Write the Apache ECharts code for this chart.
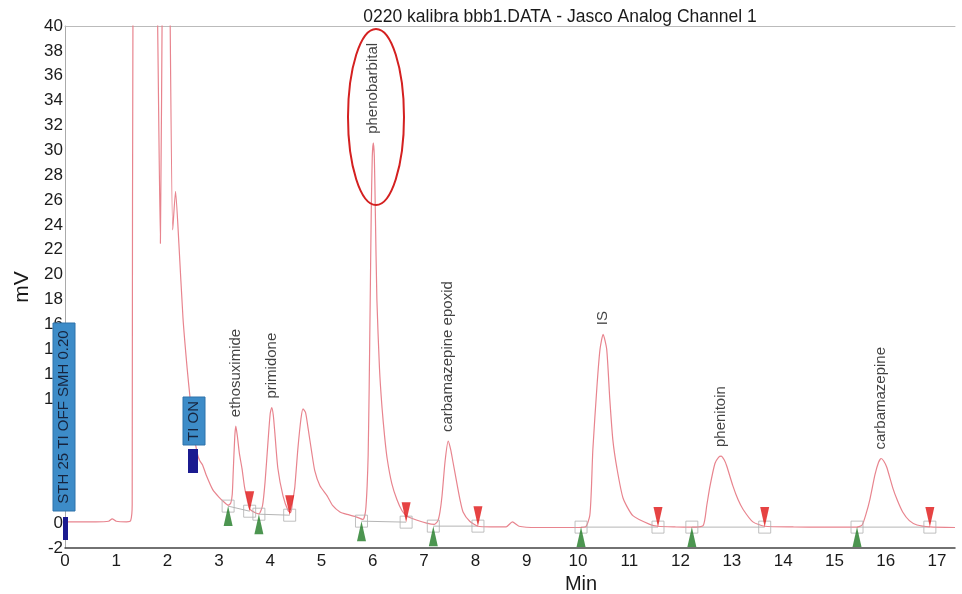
<!DOCTYPE html>
<html><head><meta charset="utf-8">
<script src="https://cdn.jsdelivr.net/npm/echarts@6/dist/echarts.min.js"></script>
<style>html,body{margin:0;padding:0;background:#fff}#c{width:962px;height:594px}</style>
</head><body><div id="c"></div>
<script>
// ---- data ----
const timeMin = [0,0.3,0.6,0.85,0.92,1.0,1.2,1.28,1.31,1.33,1.6,1.79,1.86,1.90,1.98,2.04,2.10,2.155,2.22,2.30,2.38,2.44,2.52,2.58,2.63,2.68,2.75,2.88,3.0,3.10,3.18,3.23,3.26,3.28,3.31,3.33,3.36,3.40,3.45,3.50,3.55,3.60,3.70,3.78,3.85,3.90,3.96,4.00,4.03,4.06,4.09,4.15,4.25,4.35,4.40,4.44,4.48,4.54,4.60,4.64,4.69,4.74,4.81,4.87,4.97,5.11,5.22,5.36,5.50,5.65,5.81,5.86,5.89,5.91,5.93,5.95,5.97,5.99,6.01,6.03,6.05,6.08,6.13,6.18,6.23,6.28,6.37,6.47,6.57,6.67,6.85,7.05,7.20,7.27,7.31,7.35,7.41,7.47,7.52,7.56,7.64,7.70,7.76,7.89,8.05,8.30,8.60,8.72,8.85,9.2,9.6,10.0,10.15,10.23,10.26,10.29,10.37,10.43,10.49,10.56,10.62,10.68,10.76,10.88,11.07,11.40,11.56,11.9,12.22,12.44,12.51,12.57,12.67,12.74,12.79,12.85,12.9,13.02,13.12,13.22,13.41,13.64,14.2,14.8,15.2,15.44,15.54,15.62,15.69,15.79,15.86,15.91,15.96,16.02,16.14,16.23,16.33,16.46,16.61,16.86,17.35];
const signalMv = [0.1,0.1,0.1,0.15,0.35,0.15,0.1,0.2,1.5,50,80,45,22.5,45,70,45,23.6,26.7,22.5,16.5,12.5,10,7.0,5.6,5.0,4.7,3.9,2.7,2.1,1.7,1.45,1.6,2.3,4.2,7.0,7.8,7.0,5.6,4.4,2.9,1.9,1.15,0.85,0.75,1.4,3.3,6.7,8.8,9.3,8.7,7.3,4.4,2.2,1.0,0.85,1.8,2.9,6.0,8.4,9.2,8.9,7.6,5.7,4.2,3.0,2.2,1.4,0.9,0.7,0.55,0.3,1.0,3.0,5.5,11,18,25,29.5,30.6,29.5,25,18,12.5,9.3,7.0,5.2,3.2,1.9,1.0,0.55,0.25,0.0,-0.1,0.2,0.9,2.2,5.0,6.6,5.9,5.0,3.2,1.9,0.9,0.15,-0.25,-0.3,-0.3,0.1,-0.25,-0.35,-0.35,-0.35,-0.3,0.6,2.6,5.9,11,14,15.2,14,10,6.7,4.4,2.0,0.6,-0.1,-0.25,-0.3,-0.32,-0.2,1.4,2.9,4.8,5.3,5.4,5.1,4.6,3.0,1.9,1.1,0.1,-0.25,-0.3,-0.32,-0.32,-0.32,-0.15,0.8,1.9,3.9,4.9,5.2,5.0,4.5,2.8,1.8,0.9,0.2,-0.15,-0.3,-0.35];

const peakNames   = ['ethosuximide','primidone','phenobarbital','carbamazepine epoxid','IS','phenitoin','carbamazepine'];
const peakTimes   = [3.33, 4.03, 6.01, 7.47, 10.49, 12.79, 15.91];
const peakHeights = [7.8, 9.3, 30.6, 6.6, 15.2, 5.4, 5.2];

const startTimes  = [3.18, 3.78, 5.78, 7.18, 10.06, 12.22, 15.44];
const startValues = [1.37, 0.72, 0.16, -0.24, -0.32, -0.32, -0.32];
const endTimes    = [3.60, 4.38, 6.65, 8.05, 11.56, 13.64, 16.86];
const endValues   = [0.96, 0.64, 0.08, -0.24, -0.32, -0.32, -0.32];

const xMin = 0, xMax = 17.35, xStep = 1;
const yMin = -2, yMax = 40, yStep = 2;

const titleText = '0220 kalibra bbb1.DATA - Jasco Analog Channel 1';
const eventText1 = 'STH 25 TI OFF SMH 0.20';
const eventText2 = 'TI ON';

// ---- build ----
const trace = timeMin.map((t, i) => [t, signalMv[i]]);
const baseSeg = [];
startTimes.forEach((t, i) => { baseSeg.push([t, startValues[i]]); baseSeg.push([endTimes[i], endValues[i]]); baseSeg.push(['-', '-']); });
const starts = startTimes.map((t, i) => [t, startValues[i]]);
const ends = endTimes.map((t, i) => [t, endValues[i]]);
const peaks = peakTimes.map((t, i) => ({ name: peakNames[i], value: [t, peakHeights[i]] }));

const FONT = 'Liberation Sans, Arial, sans-serif';
const chart = echarts.init(document.getElementById('c'), null, { renderer: 'canvas' });
chart.setOption({
  animation: false,
  backgroundColor: '#fff',
  title: { text: titleText, left: 555, top: 3, textAlign: 'center',
    textStyle: { fontFamily: FONT, fontSize: 17.5, fontWeight: 'normal', color: '#1a1a1a' } },
  grid: { left: 65, right: 7, top: 26, bottom: 46, containLabel: false, outerBoundsMode: 'none' },
  xAxis: [{
    type: 'value', min: xMin, max: xMax, interval: xStep,
    name: 'Min', nameLocation: 'middle', nameGap: 12,
    nameTextStyle: { fontFamily: FONT, fontSize: 20, color: '#1a1a1a', padding: [0, 0, 0, 142] },
    axisLine: { onZero: false, lineStyle: { color: '#444', width: 1.5 } },
    axisTick: { show: false },
    axisLabel: { fontFamily: FONT, fontSize: 17, color: '#1a1a1a', margin: 5,
      formatter: v => Math.abs(v - Math.round(v)) < 1e-6 ? String(Math.round(v)) : '' },
    splitLine: { show: false }
  }, {
    type: 'value', position: 'top', min: xMin, max: xMax,
    axisLine: { onZero: false, lineStyle: { color: '#bbb' } }, axisTick: { show: false },
    axisLabel: { show: false }, splitLine: { show: false }
  }],
  yAxis: {
    type: 'value', min: yMin, max: yMax, interval: yStep,
    name: 'mV', nameLocation: 'middle', nameGap: 21, nameRotate: 90,
    nameTextStyle: { fontFamily: FONT, fontSize: 21, color: '#1a1a1a' },
    axisLine: { show: true, onZero: false, lineStyle: { color: '#aaa' } },
    axisTick: { show: false },
    axisLabel: { fontFamily: FONT, fontSize: 17, color: '#1a1a1a', margin: 2 },
    splitLine: { show: false }
  },
  series: [
    { type: 'line', data: baseSeg, showSymbol: false, connectNulls: false,
      lineStyle: { color: '#b5b5b5', width: 1 }, z: 1, silent: true },
    { type: 'line', data: trace, showSymbol: false, smooth: 0.2, clip: true,
      lineStyle: { color: '#e8848e', width: 1.2 }, z: 2 },
    { type: 'scatter', data: starts.concat(ends), symbol: 'rect', symbolSize: 12,
      itemStyle: { color: 'rgba(0,0,0,0)', borderColor: '#b0b0b0', borderWidth: 1 }, z: 3 },
    { type: 'scatter', data: starts, symbol: 'triangle', symbolSize: [9, 20], symbolOffset: [0, 10],
      itemStyle: { color: '#1f7a24' }, z: 4 },
    { type: 'scatter', data: ends, symbol: 'triangle', symbolSize: [9, 20], symbolRotate: 180, symbolOffset: [0, -10],
      itemStyle: { color: '#e01414' }, z: 4 },
    { type: 'scatter', data: peaks, symbolSize: 0, z: 5,
      label: { show: true, position: 'top', distance: 9, rotate: 90, align: 'left', verticalAlign: 'middle',
        formatter: p => p.name, fontFamily: FONT, fontSize: 15, color: '#111' } }
  ],
  graphic: [
    { type: 'ellipse', z: 100, shape: { cx: 376, cy: 117, rx: 28, ry: 88 },
      style: { fill: 'none', stroke: '#d42020', lineWidth: 2 } },
    { type: 'rect', z: 100, shape: { x: 53, y: 323, width: 22, height: 188 },
      style: { fill: '#3d8cc8', stroke: '#2f73aa', lineWidth: 1 } },
    { type: 'text', z: 101, x: 64, y: 417, rotation: Math.PI / 2,
      style: { text: eventText1, fill: '#17243d', font: '15px ' + FONT, align: 'center', verticalAlign: 'middle' } },
    { type: 'rect', z: 100, shape: { x: 63, y: 517, width: 5, height: 23 }, style: { fill: '#1b1b90' } },
    { type: 'rect', z: 100, shape: { x: 183, y: 397, width: 22, height: 48 },
      style: { fill: '#3d8cc8', stroke: '#2f73aa', lineWidth: 1 } },
    { type: 'text', z: 101, x: 194, y: 421, rotation: Math.PI / 2,
      style: { text: eventText2, fill: '#17243d', font: '15px ' + FONT, align: 'center', verticalAlign: 'middle' } },
    { type: 'rect', z: 100, shape: { x: 188, y: 449, width: 10, height: 24 }, style: { fill: '#1b1b90' } }
  ]
});
</script></body></html>
